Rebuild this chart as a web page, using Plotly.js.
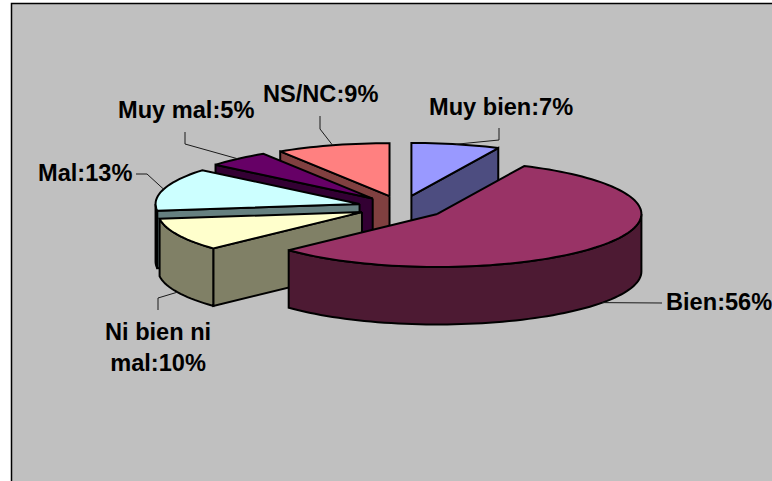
<!DOCTYPE html>
<html>
<head>
<meta charset="utf-8">
<script src="https://cdn.plot.ly/plotly-3.0.0.min.js"></script>
<style>html,body{margin:0;padding:0;background:#fff;overflow:hidden}#chart{width:772px;height:481px}</style>
</head>
<body>
<div id="chart"></div>
<script>
// Data, clockwise from 12 o'clock
const categories = ['Muy bien', 'Bien', 'Ni bien ni<br>mal', 'Mal', 'Muy mal', 'NS/NC'];
const percentages = [7, 56, 10, 13, 5, 9];
const topColors = ['#9999FF', '#993366', '#FFFFCC', '#CCFFFF', '#660066', '#FF8080'];
const sideColors = ['#4D4D80', '#4D1A33', '#808066', '#668080', '#330033', '#804040'];
const drawOrder = [5, 0, 4, 3, 2, 1];

// Label placement: label centre, and the leader's elbow(s) after the rim anchor
const labelCentres = [[500.5, 107], [718.5, 302], [158, 347], [85, 173], [185.5, 110], [320.5, 94]];
const leaderPaths = [
  [[499, 140], [499, 128]],
  [[662, 303]],
  [[158, 298], [158, 310]],
  [[147, 174], [136, 174]],
  [[185, 144], [185, 132]],
  [[320, 129], [320, 116]]
];

// Projection of the pie
const CX = 401.8, CY = 207.2, RX = 204, RY = 53, DEPTH = 57.5, EX = 44, EY = 11.5;
const rad = d => d * Math.PI / 180;
const total = percentages.reduce((a, b) => a + b, 0);

let cum = 0;
const slices = percentages.map((v, i) => {
  const a0 = cum / total * 360; cum += v;
  const a1 = cum / total * 360;
  const mid = (a0 + a1) / 2;
  return { i, a0, a1, mid, ax: CX + EX * Math.sin(rad(mid)), ay: CY - EY * Math.cos(rad(mid)) };
});
const rim = (s, a, dz) => [s.ax + RX * Math.sin(rad(a)), s.ay - RY * Math.cos(rad(a)) + (dz || 0)];
const arc = (s, from, to, dz) => {
  const n = Math.max(2, Math.ceil(Math.abs(to - from) / 2)), out = [];
  for (let k = 0; k <= n; k++) out.push(rim(s, from + (to - from) * k / n, dz));
  return out;
};
const poly = (pts, fill) => ({
  type: 'scatter', mode: 'lines', x: pts.map(p => p[0]), y: pts.map(p => p[1]),
  fill: 'toself', fillcolor: fill, line: { color: '#000', width: 2, simplify: false },
  hoverinfo: 'skip', showlegend: false
});

const traces = [];
drawOrder.forEach(idx => {
  const s = slices[idx], top = topColors[idx], side = sideColors[idx];
  const apex = [s.ax, s.ay], apexLow = [s.ax, s.ay + DEPTH];
  const cut = a => {
    const p = rim(s, a), q = rim(s, a, DEPTH);
    traces.push(poly([apex, p, q, apexLow, apex], side));
  };
  if (Math.sin(rad(s.a0)) < 0) cut(s.a0);
  if (Math.sin(rad(s.a1)) > 0) cut(s.a1);
  const lo = Math.max(s.a0, 90), hi = Math.min(s.a1, 270);
  if (hi > lo) {
    const upper = arc(s, lo, hi, 0), lower = arc(s, hi, lo, DEPTH);
    traces.push(poly(upper.concat(lower, [upper[0]]), side));
  }
  traces.push(poly([apex].concat(arc(s, s.a0, s.a1, 0), [apex]), top));
});

// Leader lines start on the rim at each slice's mid angle
slices.forEach(s => {
  const front = s.mid > 90 && s.mid < 270;
  const pts = [rim(s, s.mid, front ? DEPTH : 0)].concat(leaderPaths[s.i]);
  traces.push({
    type: 'scatter', mode: 'lines', x: pts.map(p => p[0]), y: pts.map(p => p[1]),
    line: { color: '#1a1a1a', width: 1 }, hoverinfo: 'skip', showlegend: false
  });
});

const annotations = slices.map(s => ({
  x: labelCentres[s.i][0], y: labelCentres[s.i][1], xref: 'x', yref: 'y',
  text: categories[s.i] + ':' + percentages[s.i] + '%',
  showarrow: false, xanchor: 'center', yanchor: 'middle', align: 'center',
  font: { family: '"Liberation Sans", Arial, sans-serif', size: 23.6, color: '#000', weight: 700 }
}));

const layout = {
  width: 772, height: 481, autosize: false,
  margin: { l: 0, r: 0, t: 0, b: 0, pad: 0 },
  paper_bgcolor: '#FFFFFF', plot_bgcolor: 'rgba(0,0,0,0)',
  xaxis: { range: [0, 772], visible: false, fixedrange: true },
  yaxis: { range: [481, 0], visible: false, fixedrange: true },
  showlegend: false,
  shapes: [{ type: 'rect', xref: 'x', yref: 'y', x0: 11.5, y0: 3.5, x1: 790, y1: 500,
    fillcolor: '#C0C0C0', line: { color: '#000', width: 1.5 }, layer: 'below' }],
  annotations
};
Plotly.newPlot('chart', traces, layout, { staticPlot: true, displayModeBar: false });
</script>
</body>
</html>
